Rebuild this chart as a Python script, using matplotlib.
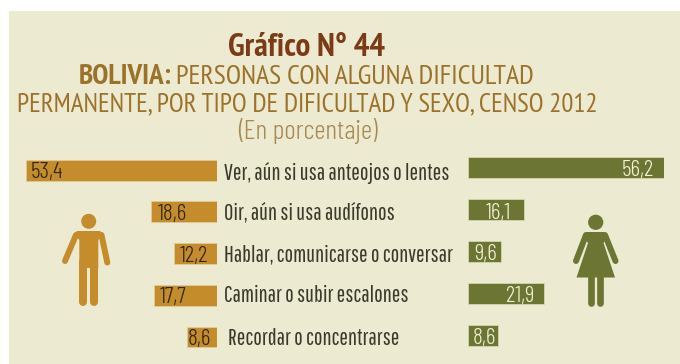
import matplotlib
matplotlib.use('Agg')
import matplotlib.pyplot as plt
from matplotlib.patches import Circle, Polygon, Rectangle

categorias = ['Ver, aún si usa anteojos o lentes', 'Oir, aún si usa audífonos',
              'Hablar, comunicarse o conversar', 'Caminar o subir escalones',
              'Recordar o concentrarse']
hombres = [53.4, 18.6, 12.2, 17.7, 8.6]
mujeres = [56.2, 16.1, 9.6, 21.9, 8.6]

FONT = ['PT Sans Narrow', 'Barlow Condensed', 'Archivo Narrow', 'Open Sans']
FONT2 = ['Barlow Condensed', 'PT Sans Narrow', 'Archivo Narrow', 'Open Sans']
FONT3 = ['Pathway Gothic One', 'Barlow Condensed', 'PT Sans Narrow', 'Open Sans']
W, H = 680, 364
BG = '#ECEAD1'
ORO = '#C48C2B'
VERDE = '#6D7532'
CAFE = '#7A3B16'
TITULO = '#9C7229'
TEXTO = '#3A3A2C'


def eje_px(fig, x0, x1, y0, y1):
    # axes placed with pixel coords, y counted from the top
    return fig.add_axes([x0 / W, 1 - y1 / H, (x1 - x0) / W, (y1 - y0) / H])


fig = plt.figure(figsize=(6.8, 3.64), dpi=100, facecolor='white')
fig.patches.append(Rectangle((8.5 / W, 0), 1, 1 - 11 / H, transform=fig.transFigure, color=BG, lw=0, zorder=-5))

# bars, men on the left (reversed axis), women on the right
izq = eje_px(fig, 25.5, 217.5, 149.35, 357.85)
izq.barh(range(5), hombres, height=0.5, color=ORO, edgecolor='#E2CF9A', linewidth=0.5)
izq.set_xlim(53.4, 0)
izq.set_ylim(4.5, -0.5)

der = eje_px(fig, 468, 664, 146.3, 356)
der.barh(range(5), mujeres, height=0.5, color=VERDE, edgecolor='#DDDDB8', linewidth=0.5)
der.set_xlim(0, 56.2)
der.set_ylim(4.5, -0.5)

for a in (izq, der):
    a.axis('off')
    a.patch.set_alpha(0)

# overlay in pixels for text and icons
ov = fig.add_axes([0, 0, 1, 1], zorder=2)
ov.set_xlim(0, W)
ov.set_ylim(H, 0)
ov.axis('off')
ov.patch.set_alpha(0)

# titles
ov.text(307, 56.5, 'Gráfico N° 44', color=CAFE, fontsize=23.8, fontweight='bold', family=FONT, ha='center', va='baseline')
ov.text(172, 84, 'BOLIVIA:', color=TITULO, fontsize=21, fontweight='bold', family=FONT, ha='right', va='baseline')
ov.text(175.5, 84, 'PERSONAS CON ALGUNA DIFICULTAD', color=TITULO, fontsize=20, family=FONT, ha='left', va='baseline')
ov.text(307, 111, 'PERMANENTE, POR TIPO DE DIFICULTAD Y SEXO, CENSO 2012', color=TITULO, fontsize=19.4, family=FONT, ha='center', va='baseline')
ov.text(307.5, 139.5, '(En porcentaje)', color='#A88A4C', fontsize=20, fontweight=300, family=FONT2, ha='center', va='baseline')

# category labels
cat_x = [224, 224, 224, 224, 228]
cat_y = [180, 219, 261.5, 302.5, 345]
for t, x, y in zip(categorias, cat_x, cat_y):
    ov.text(x, y, t, color=TEXTO, fontsize=16.4, family=FONT3, ha='left', va='baseline')

# value labels, hand placed like in the original
val_izq_x = [47, 172, 194, 173.5, 199]
val_izq_y = [178, 220, 262, 303, 345]
val_der_x = [637.5, 498, 486, 520, 484.5]
val_der_y = [176, 219, 260, 302.5, 344]
for v, x, y in zip(hombres, val_izq_x, val_izq_y):
    ov.text(x, y, f'{v:.1f}'.replace('.', ','), color='#2E2410', fontsize=17, fontweight=300, family=FONT2, ha='center', va='baseline')
for v, x, y in zip(mujeres, val_der_x, val_der_y):
    ov.text(x, y, f'{v:.1f}'.replace('.', ','), color='#F3F1DC', fontsize=17, fontweight=300, family=FONT2, ha='center', va='baseline')


def linea(xs, ys, color, ancho):
    ov.plot(xs, ys, color=color, lw=ancho * 0.72, solid_capstyle='round', solid_joinstyle='round')


# man icon
ov.add_patch(Circle((88.7, 221.3), 7.5, color=ORO, lw=0))
ov.add_patch(Polygon([(77, 231), (100, 231), (103, 234), (98.3, 240), (98.3, 268), (79.3, 268), (79.3, 240), (74, 234)], color=ORO, lw=0))
linea([76, 65], [235, 261], ORO, 6)
linea([101.5, 107.3], [235, 262.5], ORO, 6)
linea([83.3, 83.3], [262, 301.7], ORO, 8)
linea([94, 94], [262, 301.7], ORO, 8)

# woman icon
ov.add_patch(Circle((595.7, 222.3), 7.6, color=VERDE, lw=0))
ov.add_patch(Polygon([(587, 232), (604, 232), (608, 236), (603.5, 243), (615, 277.5), (576.5, 277.5), (588, 243), (583, 236)], color=VERDE, lw=0))
linea([586, 576], [235, 261], VERDE, 6)
linea([605, 615.5], [235, 261], VERDE, 6)
linea([590.7, 590.7], [277, 303], VERDE, 6.7)
linea([600.3, 600.3], [277, 303], VERDE, 6.7)

fig.savefig('out.png', dpi=100)
